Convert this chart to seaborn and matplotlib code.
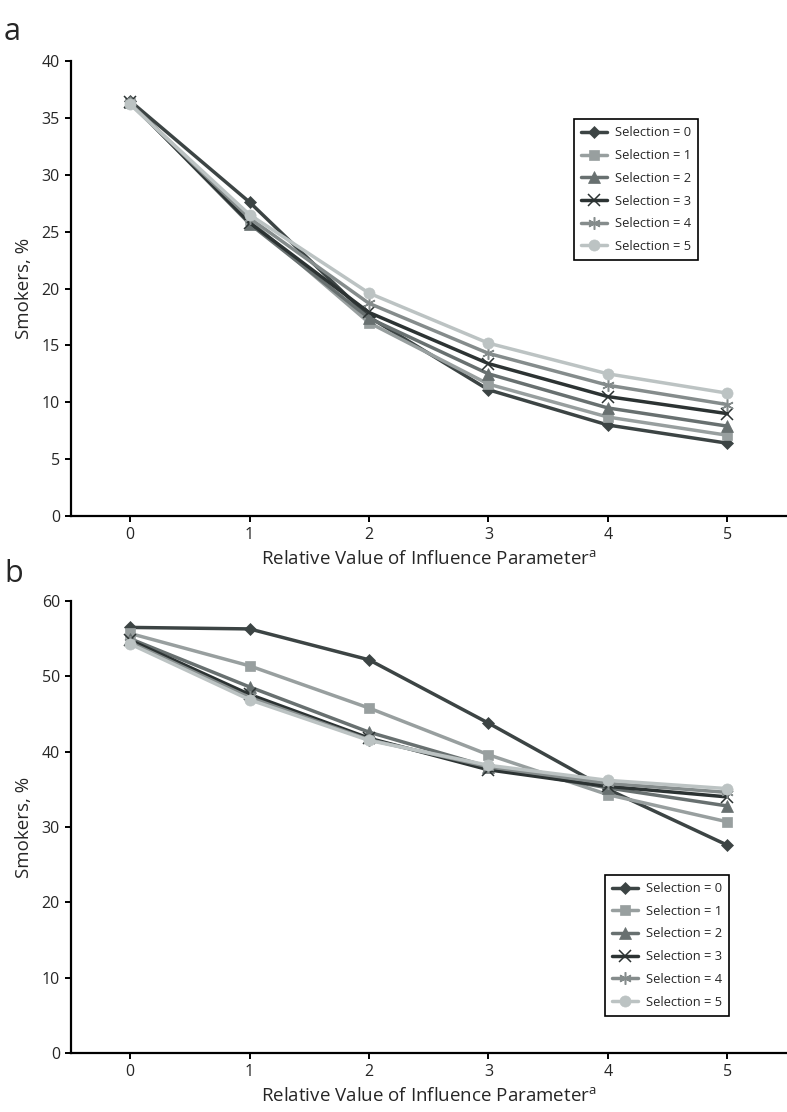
"""Two-panel line chart: smokers % vs relative value of influence parameter."""
import matplotlib
matplotlib.use('Agg')
import matplotlib.pyplot as plt
import seaborn as sns
import pandas as pd

# x values
influence = [0, 1, 2, 3, 4, 5]
selections = ['Selection = 0', 'Selection = 1', 'Selection = 2',
              'Selection = 3', 'Selection = 4', 'Selection = 5']

# panel a values (smokers, %)
a_sel0 = [36.5, 27.6, 17.5, 11.1, 8.0, 6.4]
a_sel1 = [36.3, 26.0, 17.0, 11.6, 8.7, 7.1]
a_sel2 = [36.4, 25.7, 17.4, 12.5, 9.5, 7.9]
a_sel3 = [36.4, 25.8, 17.9, 13.4, 10.5, 9.0]
a_sel4 = [36.3, 26.2, 18.7, 14.3, 11.5, 9.8]
a_sel5 = [36.2, 26.5, 19.6, 15.2, 12.5, 10.8]

# panel b values (smokers, %)
b_sel0 = [56.5, 56.3, 52.2, 43.8, 35.0, 27.6]
b_sel1 = [55.7, 51.4, 45.8, 39.6, 34.3, 30.7]
b_sel2 = [55.0, 48.6, 42.6, 38.0, 35.2, 32.8]
b_sel3 = [54.8, 47.6, 41.8, 37.6, 35.4, 34.0]
b_sel4 = [54.5, 47.2, 41.6, 38.0, 35.8, 34.6]
b_sel5 = [54.3, 46.9, 41.5, 38.2, 36.2, 35.1]

colors = ['#3c4444', '#989f9f', '#687070', '#2c3333', '#858c8c', '#bcc3c3']
markers = ['D', 's', '^', 'x', (6, 2, 0), 'o']
sizes = [6, 7.5, 8, 8, 9, 8]


def long_df(series):
    rows = []
    for label, vals in zip(selections, series):
        for x, v in zip(influence, vals):
            rows.append({'x': x, 'y': v, 'sel': label})
    return pd.DataFrame(rows)


sns.set_theme(style='white')
plt.rcParams['font.family'] = ['Open Sans', 'DejaVu Sans']
plt.rcParams['mathtext.fontset'] = 'custom'
plt.rcParams['mathtext.rm'] = 'Open Sans'

fig = plt.figure(figsize=(7.87, 11.12), dpi=100)
ax_a = fig.add_axes([0.0902, 0.536, 0.9098, 0.409])
ax_b = fig.add_axes([0.0902, 0.053, 0.9098, 0.4065])

panels = [
    (ax_a, [a_sel0, a_sel1, a_sel2, a_sel3, a_sel4, a_sel5], (0, 40), range(0, 41, 5)),
    (ax_b, [b_sel0, b_sel1, b_sel2, b_sel3, b_sel4, b_sel5], (0, 60), range(0, 61, 10)),
]

for ax, series, ylim, yticks in panels:
    df = long_df(series)
    for i, label in enumerate(selections):
        sub = df[df['sel'] == label]
        sns.lineplot(data=sub, x='x', y='y', ax=ax, color=colors[i],
                     marker=markers[i], markersize=sizes[i], linewidth=2.5,
                     markeredgecolor=colors[i], markeredgewidth=1.1 if i in (3, 4) else 0.5,
                     label=label)
    ax.set_xlim(-0.495, 5.5)
    ax.set_ylim(*ylim)
    ax.set_xticks(influence)
    ax.set_yticks(list(yticks))
    for side in ['top', 'right']:
        ax.spines[side].set_visible(False)
    for side in ['left', 'bottom']:
        ax.spines[side].set_color('black')
        ax.spines[side].set_linewidth(1.6)
    ax.tick_params(axis='both', direction='out', length=4, width=1.4, color='black',
                   labelsize=11.5, pad=4, left=True, bottom=True)
    ax.set_xlabel(r'Relative Value of Influence Parameter$^{\mathrm{a}}$',
                  fontsize=13.5, labelpad=5)
    ax.set_ylabel('Smokers, %', fontsize=13.5, labelpad=6)
    ax.grid(False)

leg_kw = dict(loc='upper left', fontsize=9.3, frameon=True, fancybox=False,
              edgecolor='black', framealpha=1, handlelength=2.0,
              labelspacing=0.75, borderpad=0.55, handletextpad=0.6, borderaxespad=0)
leg_a = ax_a.legend(bbox_to_anchor=(0.7025, 0.872), **leg_kw)
leg_a.get_frame().set_linewidth(1.2)
leg_b = ax_b.legend(bbox_to_anchor=(0.746, 0.394), **leg_kw)
leg_b.get_frame().set_linewidth(1.2)

fig.text(0.005, 0.985, 'a', fontsize=22, va='top', ha='left')
fig.text(0.005, 0.497, 'b', fontsize=22, va='top', ha='left')

fig.savefig('out.png', dpi=100)
